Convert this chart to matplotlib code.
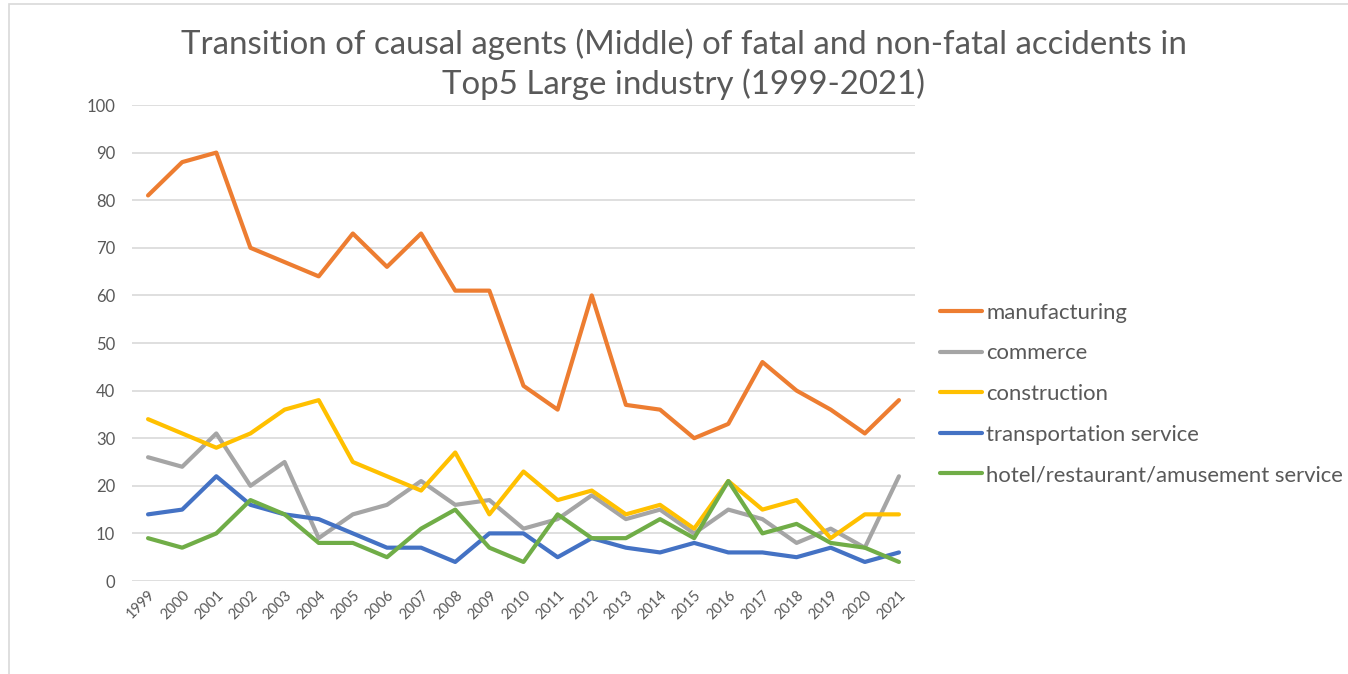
import matplotlib
matplotlib.use("Agg")
import matplotlib.pyplot as plt
from matplotlib.patches import Rectangle

years = [str(y) for y in range(1999, 2022)]

manufacturing = [81, 88, 90, 70, 67, 64, 73, 66, 73, 61, 61, 41, 36, 60, 37, 36, 30, 33, 46, 40, 36, 31, 38]
commerce = [26, 24, 31, 20, 25, 9, 14, 16, 21, 16, 17, 11, 13, 18, 13, 15, 10, 15, 13, 8, 11, 7, 22]
construction = [34, 31, 28, 31, 36, 38, 25, 22, 19, 27, 14, 23, 17, 19, 14, 16, 11, 21, 15, 17, 9, 14, 14]
transportation = [14, 15, 22, 16, 14, 13, 10, 7, 7, 4, 10, 10, 5, 9, 7, 6, 8, 6, 6, 5, 7, 4, 6]
hotel = [9, 7, 10, 17, 14, 8, 8, 5, 11, 15, 7, 4, 14, 9, 9, 13, 9, 21, 10, 12, 8, 7, 4]

series = [
    ("manufacturing", manufacturing, "#ED7D31"),
    ("commerce", commerce, "#A5A5A5"),
    ("construction", construction, "#FFC000"),
    ("transportation service", transportation, "#4472C4"),
    ("hotel/restaurant/amusement service", hotel, "#70AD47"),
]

plt.rcParams['font.family'] = ['Lato', 'DejaVu Sans']
txt = "#595959"

fig = plt.figure(figsize=(13.48, 6.74), dpi=100)
ax = fig.add_axes([132 / 1348, 1 - 581 / 674, (915 - 132) / 1348, (581 - 105) / 674])

# chart frame
fig.patches.append(Rectangle((9 / 1348, -0.1), 1.2, 1 - 4 / 674 + 0.1, transform=fig.transFigure,
                             fill=False, edgecolor="#D9D9D9", lw=1.2))

x = list(range(len(years)))
for name, vals, col in series:
    ax.plot(x, vals, color=col, lw=3, label=name, solid_joinstyle="round", solid_capstyle="round")

ax.set_xlim(-0.47, len(years) - 0.53)
ax.set_ylim(0, 100)
ax.set_yticks(range(0, 101, 10))
ax.set_xticks(x)
ax.set_xticklabels(years, rotation=45, ha="right", rotation_mode="anchor", fontsize=10.5, color=txt)
ax.tick_params(axis="y", labelsize=12, colors=txt, length=0, pad=12)
ax.tick_params(axis="x", length=0, pad=5)
ax.grid(axis="y", color="#D9D9D9", lw=1.2)
ax.set_axisbelow(True)
for s in ax.spines.values():
    s.set_visible(False)

fig.text(684 / 1348, 1 - 64 / 674, "Transition of causal agents (Middle) of fatal and non-fatal accidents in\nTop5 Large industry (1999-2021)",
         ha="center", va="center", fontsize=23.8, color=txt, linespacing=1.35)

leg = ax.legend(loc="center left", bbox_to_anchor=(940 / 1348, 1 - 394 / 674), bbox_transform=fig.transFigure,
                frameon=False, fontsize=15.9, handlelength=1.9, handletextpad=0.2, labelspacing=0.93,
                labelcolor=txt, borderaxespad=0, borderpad=0)

fig.savefig("out.png", dpi=100)
